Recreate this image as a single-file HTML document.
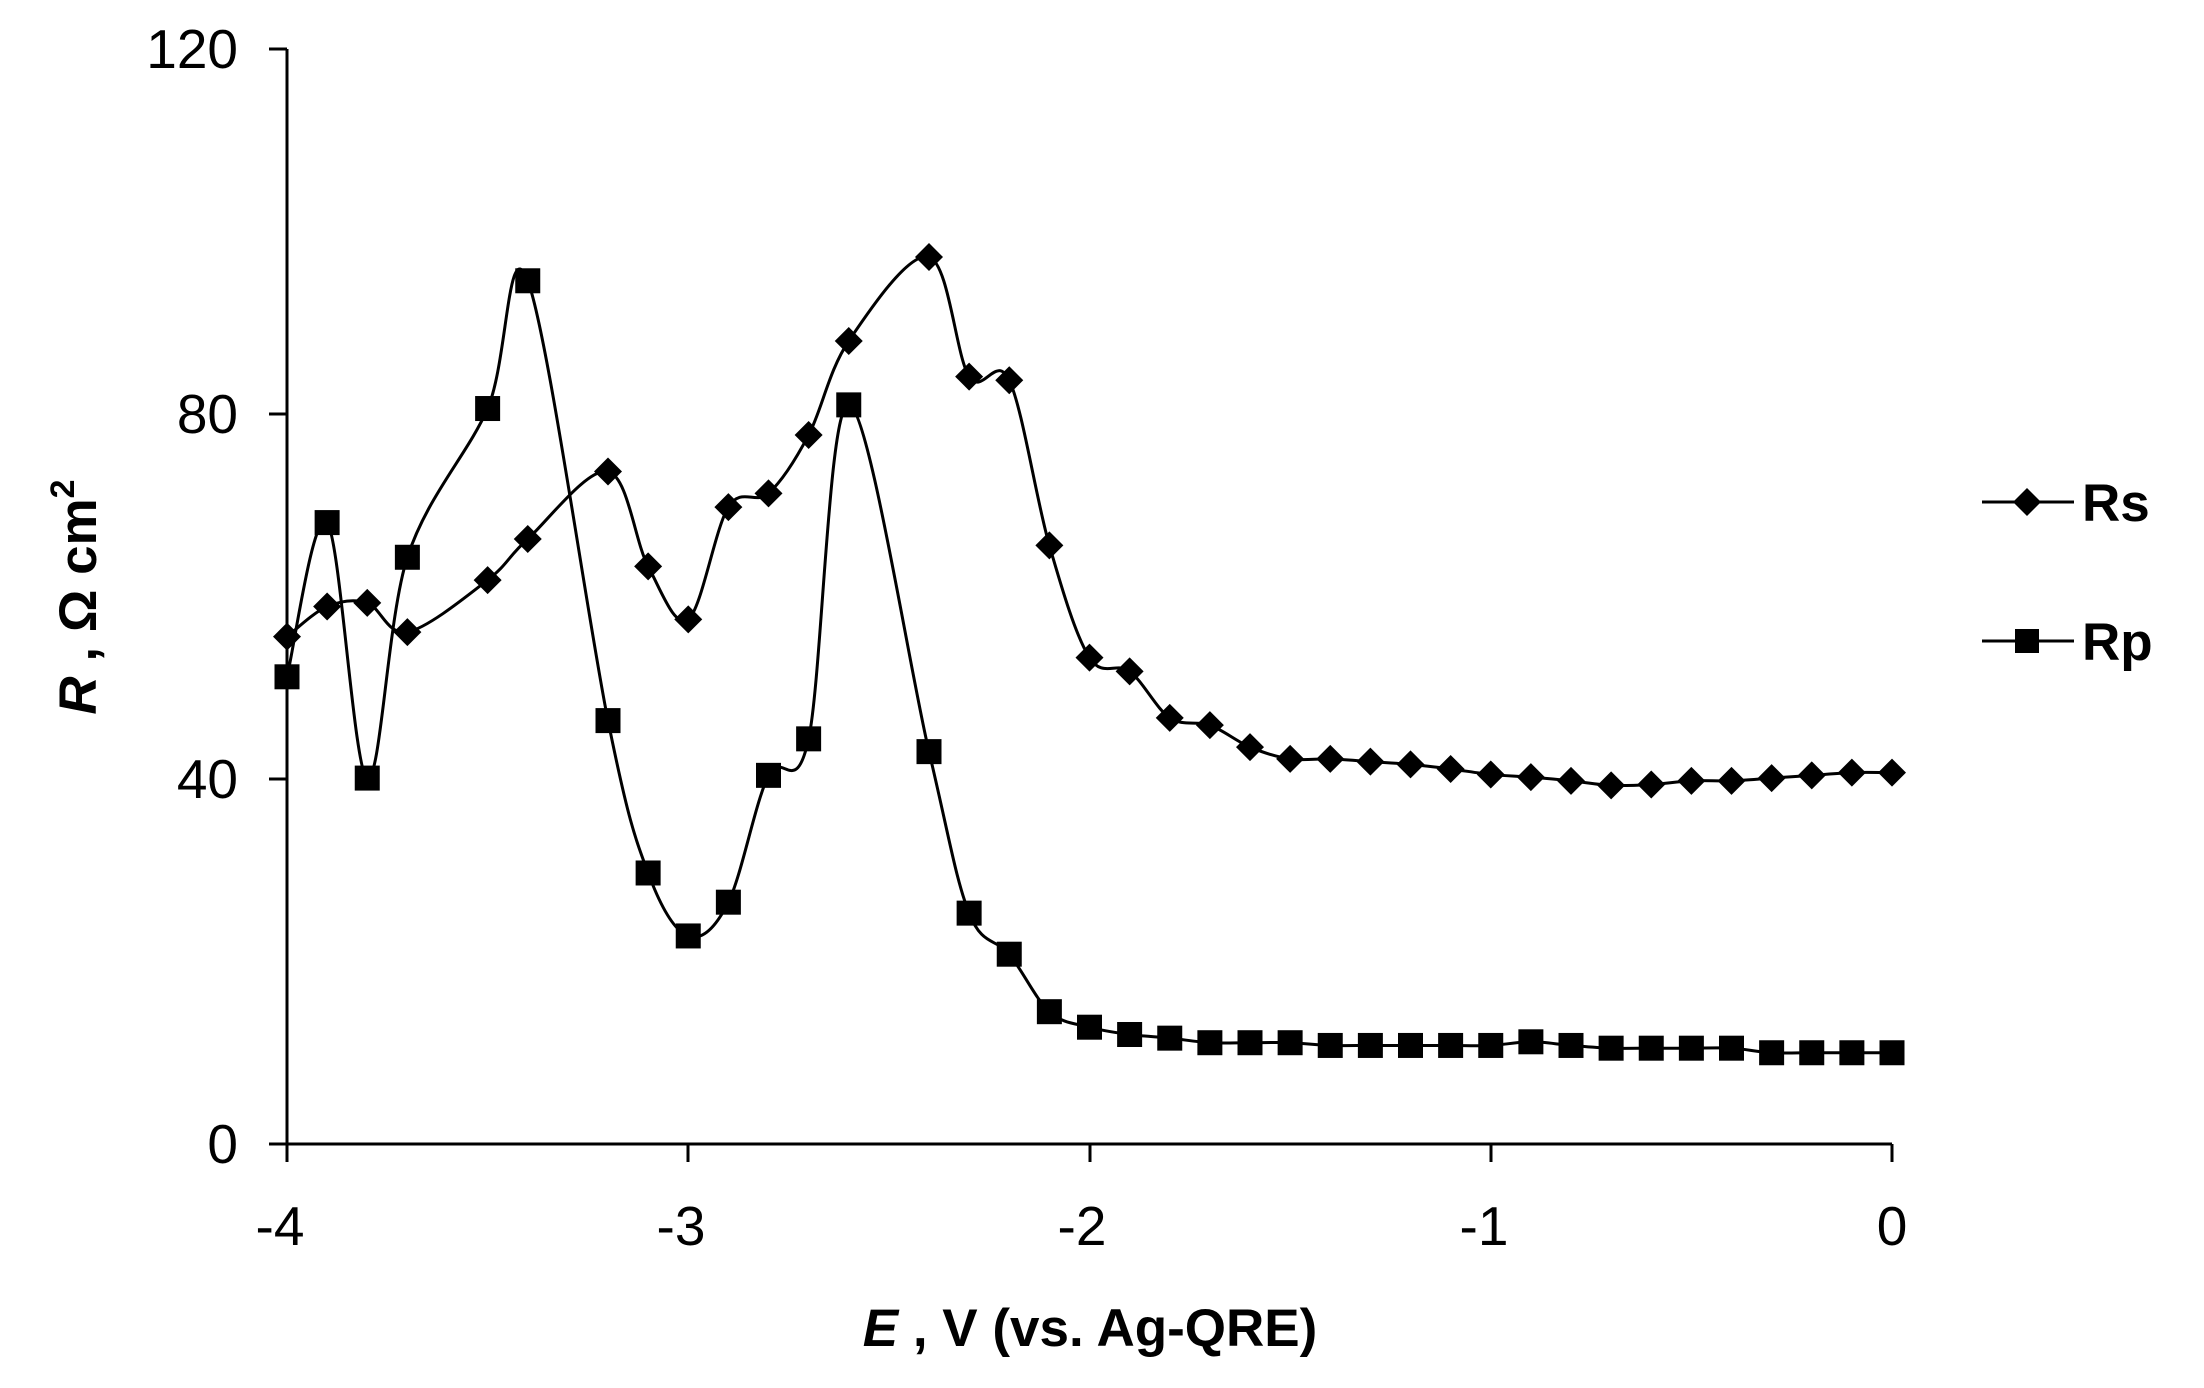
<!DOCTYPE html>
<html><head><meta charset="utf-8"><style>
html,body{margin:0;padding:0;background:#fff}
svg{display:block}
text{font-family:"Liberation Sans",Arial,sans-serif;fill:#000}
</style></head><body>
<svg id="s" width="2204" height="1388" viewBox="0 0 2204 1388" xmlns="http://www.w3.org/2000/svg">
<g stroke="#000" stroke-width="3" fill="none">
<line x1="287" y1="49" x2="287" y2="1162"/>
<line x1="269" y1="1144" x2="1892" y2="1144"/>
<line x1="269" y1="49" x2="287" y2="49"/>
<line x1="269" y1="414" x2="287" y2="414"/>
<line x1="269" y1="779" x2="287" y2="779"/>
<line x1="688" y1="1144" x2="688" y2="1162"/>
<line x1="1090" y1="1144" x2="1090" y2="1162"/>
<line x1="1491" y1="1144" x2="1491" y2="1162"/>
<line x1="1892" y1="1144" x2="1892" y2="1162"/>
</g>
<g font-size="55" text-anchor="end">
<text x="238" y="1163">0</text>
<text x="238" y="798">40</text>
<text x="238" y="433">80</text>
<text x="238" y="68">120</text>
</g>
<g font-size="55" text-anchor="middle">
<text x="280" y="1245">-4</text>
<text x="681" y="1245">-3</text>
<text x="1082" y="1245">-2</text>
<text x="1484" y="1245">-1</text>
<text x="1892" y="1245">0</text>
</g>
<text x="1090" y="1346" font-size="53" font-weight="bold" text-anchor="middle"><tspan font-style="italic">E</tspan> , V (vs. Ag-QRE)</text>
<text transform="translate(96,597) rotate(-90)" font-size="53" font-weight="bold" text-anchor="middle"><tspan font-style="italic">R</tspan> , Ω cm<tspan dy="-22" font-size="34">2</tspan></text>
<g id="plot"></g>
<g stroke="#000" stroke-width="3">
<line x1="1982" y1="502" x2="2074" y2="502"/>
<line x1="1982" y1="641" x2="2074" y2="641"/>
</g>
<polygon points="2027,488 2041,502 2027,516 2013,502" fill="#000"/>
<rect x="2015" y="629" width="24" height="24" fill="#000"/>
<text x="2082" y="521" font-size="53" font-weight="bold">Rs</text>
<text x="2082" y="660" font-size="53" font-weight="bold">Rp</text>
</svg>
<script>
var rs=[[-4,55.6],[-3.9,58.9],[-3.8,59.3],[-3.7,56.1],[-3.5,61.8],[-3.4,66.3],[-3.2,73.7],[-3.1,63.3],[-3,57.5],[-2.9,69.8],[-2.8,71.3],[-2.7,77.7],[-2.6,88],[-2.4,97.2],[-2.3,84.1],[-2.2,83.7],[-2.1,65.6],[-2,53.3],[-1.9,51.8],[-1.8,46.7],[-1.7,45.9],[-1.6,43.5],[-1.5,42.2],[-1.4,42.2],[-1.3,41.9],[-1.2,41.6],[-1.1,41.1],[-1,40.5],[-0.9,40.2],[-0.8,39.8],[-0.7,39.3],[-0.6,39.4],[-0.5,39.8],[-0.4,39.8],[-0.3,40.1],[-0.2,40.4],[-0.1,40.7],[0,40.7]];
var rp=[[-4,51.2],[-3.9,68.1],[-3.8,40.1],[-3.7,64.3],[-3.5,80.6],[-3.4,94.6],[-3.2,46.4],[-3.1,29.7],[-3,22.8],[-2.9,26.5],[-2.8,40.4],[-2.7,44.4],[-2.6,81],[-2.4,43],[-2.3,25.3],[-2.2,20.8],[-2.1,14.5],[-2,12.8],[-1.9,12],[-1.8,11.6],[-1.7,11.1],[-1.6,11.1],[-1.5,11.1],[-1.4,10.8],[-1.3,10.8],[-1.2,10.8],[-1.1,10.8],[-1,10.8],[-0.9,11.2],[-0.8,10.8],[-0.7,10.5],[-0.6,10.5],[-0.5,10.5],[-0.4,10.5],[-0.3,10],[-0.2,10],[-0.1,10],[0,10]];
function X(v){return 287+(v+4)*401.25}
function Y(v){return 1144-v*9.125}
function path(d){var p=d.map(function(a){return [X(a[0]),Y(a[1])]});var s="M"+p[0][0]+","+p[0][1];
for(var i=0;i<p.length-1;i++){var p0=p[Math.max(i-1,0)],p1=p[i],p2=p[i+1],p3=p[Math.min(i+2,p.length-1)];var t=0.5/3;
s+=" C"+(p1[0]+(p2[0]-p0[0])*t)+","+(p1[1]+(p2[1]-p0[1])*t)+" "+(p2[0]-(p3[0]-p1[0])*t)+","+(p2[1]-(p3[1]-p1[1])*t)+" "+p2[0]+","+p2[1];}return s}
var ns="http://www.w3.org/2000/svg",g=document.getElementById("plot");
function add(tag,at){var e=document.createElementNS(ns,tag);for(var k in at)e.setAttribute(k,at[k]);g.appendChild(e)}
add("path",{d:path(rs),fill:"none",stroke:"#000","stroke-width":3});
add("path",{d:path(rp),fill:"none",stroke:"#000","stroke-width":3});
rs.forEach(function(a){var x=X(a[0]),y=Y(a[1]);add("polygon",{points:x+","+(y-14)+" "+(x+14)+","+y+" "+x+","+(y+14)+" "+(x-14)+","+y,fill:"#000"})});
rp.forEach(function(a){var x=X(a[0]),y=Y(a[1]);add("rect",{x:x-12.5,y:y-12.5,width:25,height:25,fill:"#000"})});
</script>
</body></html>
